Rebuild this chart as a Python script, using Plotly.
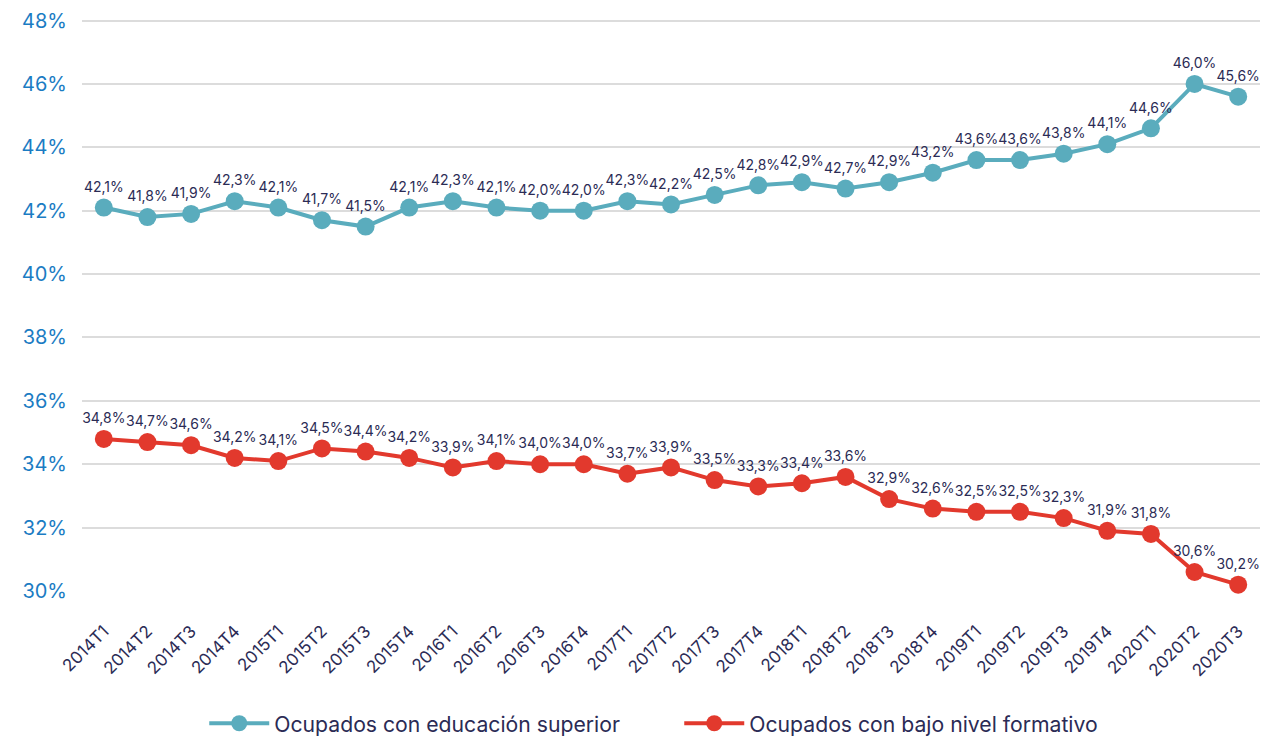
import plotly.graph_objects as go

# Quarters and shares of employed people (%)
quarters = [
    "2014T1", "2014T2", "2014T3", "2014T4", "2015T1", "2015T2", "2015T3", "2015T4",
    "2016T1", "2016T2", "2016T3", "2016T4", "2017T1", "2017T2", "2017T3", "2017T4",
    "2018T1", "2018T2", "2018T3", "2018T4", "2019T1", "2019T2", "2019T3", "2019T4",
    "2020T1", "2020T2", "2020T3",
]
superior = [
    42.1, 41.8, 41.9, 42.3, 42.1, 41.7, 41.5, 42.1, 42.3, 42.1, 42.0, 42.0, 42.3, 42.2,
    42.5, 42.8, 42.9, 42.7, 42.9, 43.2, 43.6, 43.6, 43.8, 44.1, 44.6, 46.0, 45.6,
]
bajo = [
    34.8, 34.7, 34.6, 34.2, 34.1, 34.5, 34.4, 34.2, 33.9, 34.1, 34.0, 34.0, 33.7, 33.9,
    33.5, 33.3, 33.4, 33.6, 32.9, 32.6, 32.5, 32.5, 32.3, 31.9, 31.8, 30.6, 30.2,
]
y_ticks = [30, 32, 34, 36, 38, 40, 42, 44, 46, 48]
y_tick_labels = [f"{t}%" for t in y_ticks]

TEAL = "#5aacbd"
RED = "#e2392d"
NAVY = "#2b2b55"
BLUE = "#1b7cc3"
FONT = "Inter, Roboto, sans-serif"


def fmt(v):
    return f"{v:.1f}".replace(".", ",") + "%"


fig = go.Figure()
for name, vals, color in [
    ("Ocupados con educación superior", superior, TEAL),
    ("Ocupados con bajo nivel formativo", bajo, RED),
]:
    fig.add_trace(go.Scatter(
        x=quarters, y=vals, name=name,
        mode="lines+markers+text",
        line=dict(color=color, width=4),
        marker=dict(color=color, size=18),
        text=[fmt(v) for v in vals],
        textposition="top center",
        textfont=dict(family=FONT, size=14, color=NAVY),
        cliponaxis=False,
    ))

fig.update_layout(
    width=1286, height=736,
    paper_bgcolor="white", plot_bgcolor="white",
    margin=dict(l=74, r=34, t=11, b=153, autoexpand=False),
    font=dict(family=FONT, color=NAVY),
    showlegend=True,
    legend=dict(
        orientation="h", xref="paper", x=0.507, xanchor="center",
        yref="container", y=0.0, yanchor="bottom",
        font=dict(family=FONT, size=21.2, color=NAVY),
        itemwidth=60, entrywidth=400,
    ),
)
fig.update_xaxes(
    range=[-0.5, len(quarters) - 0.5],
    showgrid=False, zeroline=False, showline=False,
    tickangle=-45, tickfont=dict(family=FONT, size=17, color=NAVY),
    ticks="", ticklabelstandoff=26,
)
fig.update_yaxes(
    range=[30, 48.05], tickvals=y_ticks, ticktext=y_tick_labels,
    showgrid=True, gridcolor="#dcdcdc", gridwidth=1.5,
    zeroline=False, showline=False,
    tickfont=dict(family=FONT, size=20, color=BLUE),
    ticklabelstandoff=14,
)

fig.write_html("out.html")
